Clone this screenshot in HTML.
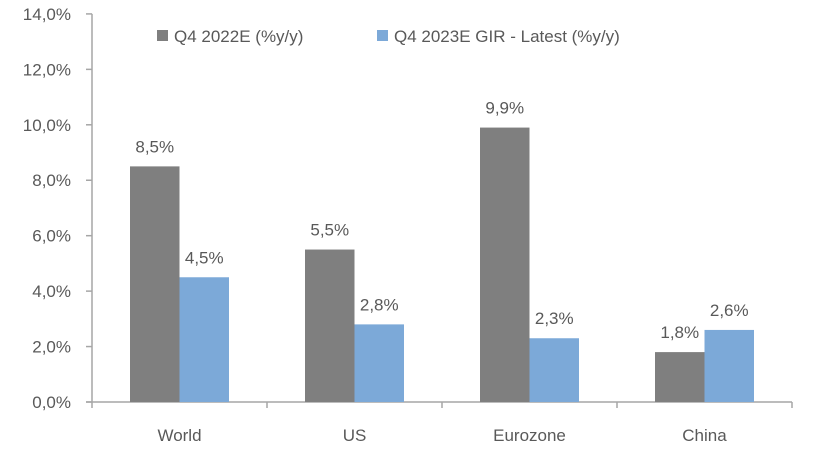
<!DOCTYPE html>
<html><head><meta charset="utf-8"><style>
html,body{margin:0;padding:0;background:#fff;}
svg text{font-family:"Liberation Sans",sans-serif;fill:#595959;}
</style></head><body>
<svg id="chart" width="820" height="456" xmlns="http://www.w3.org/2000/svg">
<g id="legend">
<g><rect x="157" y="30" width="11" height="11" fill="#7f7f7f"/><text x="174" y="42" font-size="17">Q4 2022E (%y/y)</text></g>
<g><rect x="377" y="30" width="11" height="11" fill="#7ca9d8"/><text x="394" y="42" font-size="17">Q4 2023E GIR - Latest (%y/y)</text></g>
</g>
</svg>
<script>
const categories=["World","US","Eurozone","China"];
const series2022=[8.5,5.5,9.9,1.8];
const series2023=[4.5,2.8,2.3,2.6];
const yTicks=[0,2,4,6,8,10,12,14];
const NS="http://www.w3.org/2000/svg";
const svg=document.getElementById('chart');
const x0=92,catW=175,y0=402,pxPer=27.72;
const yS=v=>y0-v*pxPer;
const fmt=v=>v.toFixed(1).replace('.',',')+'%';
function mk(t,a,p){const e=document.createElementNS(NS,t);for(const k in a)e.setAttribute(k,a[k]);(p||svg).appendChild(e);return e;}
const ax=mk('g',{});


mk('line',{x1:x0,y1:yS(14),x2:x0,y2:y0,stroke:'#a6a6a6','stroke-width':1.5},ax);
yTicks.forEach(t=>{
  mk('line',{x1:x0-6,y1:yS(t),x2:x0,y2:yS(t),stroke:'#a6a6a6','stroke-width':1.5},ax);
  const l=mk('text',{x:x0-21,y:yS(t)+6,'font-size':17,'text-anchor':'end'},ax);
  
  
  l.textContent=fmt(t);
});
const xa=mk('g',{});


mk('line',{x1:x0-6,y1:y0,x2:x0+catW*categories.length,y2:y0,stroke:'#a6a6a6','stroke-width':1.5},xa);
for(let i=0;i<=categories.length;i++)mk('line',{x1:x0+catW*i,y1:y0,x2:x0+catW*i,y2:y0+6,stroke:'#a6a6a6','stroke-width':1.5},xa);
const bw=49.5;
categories.forEach((c,i)=>{
  const cx=x0+catW*i+catW/2;
  const l=mk('text',{x:cx,y:441,'font-size':17,'text-anchor':'middle'},xa);
  
  
  l.textContent=c;
  [[series2022[i],'#7f7f7f',cx-bw],[series2023[i],'#7ca9d8',cx]].forEach(([v,col,bx],j)=>{
    const r=mk('rect',{x:bx,y:yS(v),width:bw,height:y0-yS(v),fill:col});
    
    
    const t=mk('text',{x:bx+bw/2,y:yS(v)-14,'font-size':17,'text-anchor':'middle'});
    
    
    t.textContent=fmt(v);
  });
});
</script>
</body></html>
